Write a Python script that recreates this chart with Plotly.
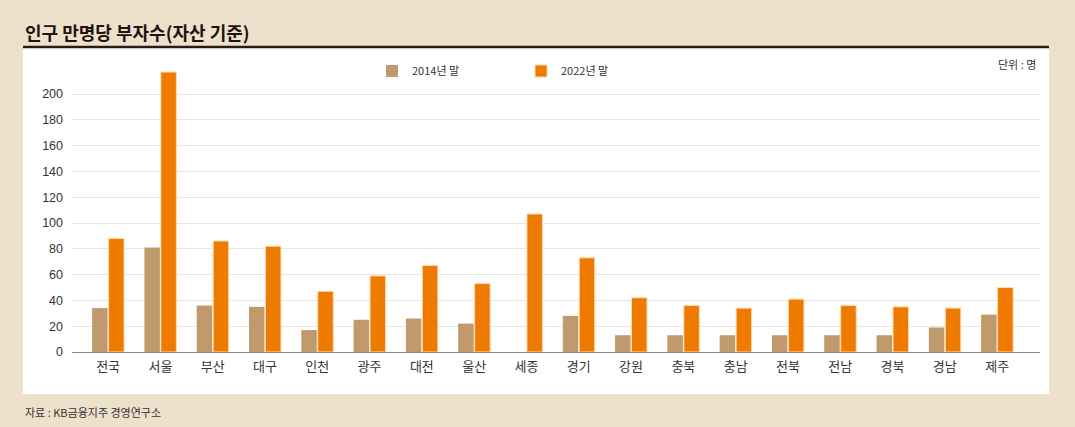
import plotly.graph_objects as go

categories = ["전국", "서울", "부산", "대구", "인천", "광주", "대전", "울산", "세종",
              "경기", "강원", "충북", "충남", "전북", "전남", "경북", "경남", "제주"]
values_2014 = [34, 81, 36, 35, 17, 25, 26, 22, 0, 28, 13, 13, 13, 13, 13, 13, 19, 29]
values_2022 = [88, 217, 86, 82, 47, 59, 67, 53, 107, 73, 42, 36, 34, 41, 36, 35, 34, 50]
y_ticks = [0, 20, 40, 60, 80, 100, 120, 140, 160, 180, 200]
series_names = ["2014년 말", "2022년 말"]

W, H = 1075, 427
L, R, T, B = 72, 35, 62, 75
pw, ph = W - L - R, H - T - B

def px_x(p):
    return (p - L) / pw

def px_y(p):
    return (H - B - p) / ph

FONT = "Noto Sans CJK KR"

fig = go.Figure()
fig.add_trace(go.Bar(x=categories, y=values_2014, name=series_names[0],
                     marker=dict(color="#C09A6C", line=dict(width=0))))
fig.add_trace(go.Bar(x=categories, y=values_2022, name=series_names[1],
                     marker=dict(color="#EE7A00", line=dict(color="#FFD9A8", width=1))))

shapes = [
    dict(type="rect", xref="paper", yref="paper", x0=px_x(23), x1=px_x(1049),
         y0=px_y(394), y1=px_y(47), fillcolor="white", line=dict(width=0), layer="below"),
    dict(type="line", xref="paper", yref="paper", x0=px_x(23), x1=px_x(1049),
         y0=px_y(47), y1=px_y(47), line=dict(color="#2A1C15", width=2.5)),
]

annotations = [
    dict(text="<b>인구 만명당 부자수(자산 기준)</b>", xref="paper", yref="paper",
         x=px_x(23), y=px_y(32), xanchor="left", yanchor="middle", showarrow=False,
         font=dict(family=FONT, size=18, color="#1E1410")),
    dict(text="단위 : 명", xref="paper", yref="paper", x=px_x(1038), y=px_y(64),
         xanchor="right", yanchor="middle", showarrow=False,
         font=dict(family=FONT, size=11, color="#333333")),
    dict(text="자료 : KB금융지주 경영연구소", xref="paper", yref="paper",
         x=px_x(23), y=px_y(412), xanchor="left", yanchor="middle", showarrow=False,
         font=dict(family=FONT, size=11, color="#333333")),
]

fig.update_layout(
    width=W, height=H,
    margin=dict(l=L, r=R, t=T, b=B),
    paper_bgcolor="#EEE1CB",
    plot_bgcolor="white",
    barmode="group", bargap=0.37, bargroupgap=0.06,
    font=dict(family=FONT, color="#333333"),
    shapes=shapes, annotations=annotations,
    legend=dict(orientation="h", x=px_x(372), y=px_y(71), xanchor="left", yanchor="middle",
                bgcolor="rgba(0,0,0,0)", font=dict(family=FONT, size=11, color="#333333"),
                entrywidth=104, entrywidthmode="pixels", itemwidth=30),
    xaxis=dict(range=[-0.69, 17.82], showgrid=False, showline=False, ticks="",
               ticklabelstandoff=5,
               tickfont=dict(family=FONT, size=13, color="#333333"), fixedrange=True),
    yaxis=dict(range=[0, (H - B - T) / 1.29], tickvals=y_ticks, showgrid=True,
               gridcolor="#E6E6E6", gridwidth=1, zeroline=True, zerolinecolor="#8A8A8A",
               zerolinewidth=1.2, showline=False, ticks="", ticklabelstandoff=8,
               tickfont=dict(family="Liberation Sans Narrow, Arial Narrow, Liberation Sans",
                             size=12.5, color="#333333")),
)

fig.write_html("out.html", config={"displayModeBar": False},
               post_script="document.body.style.margin='0px';document.body.style.background='#EEE1CB';")
